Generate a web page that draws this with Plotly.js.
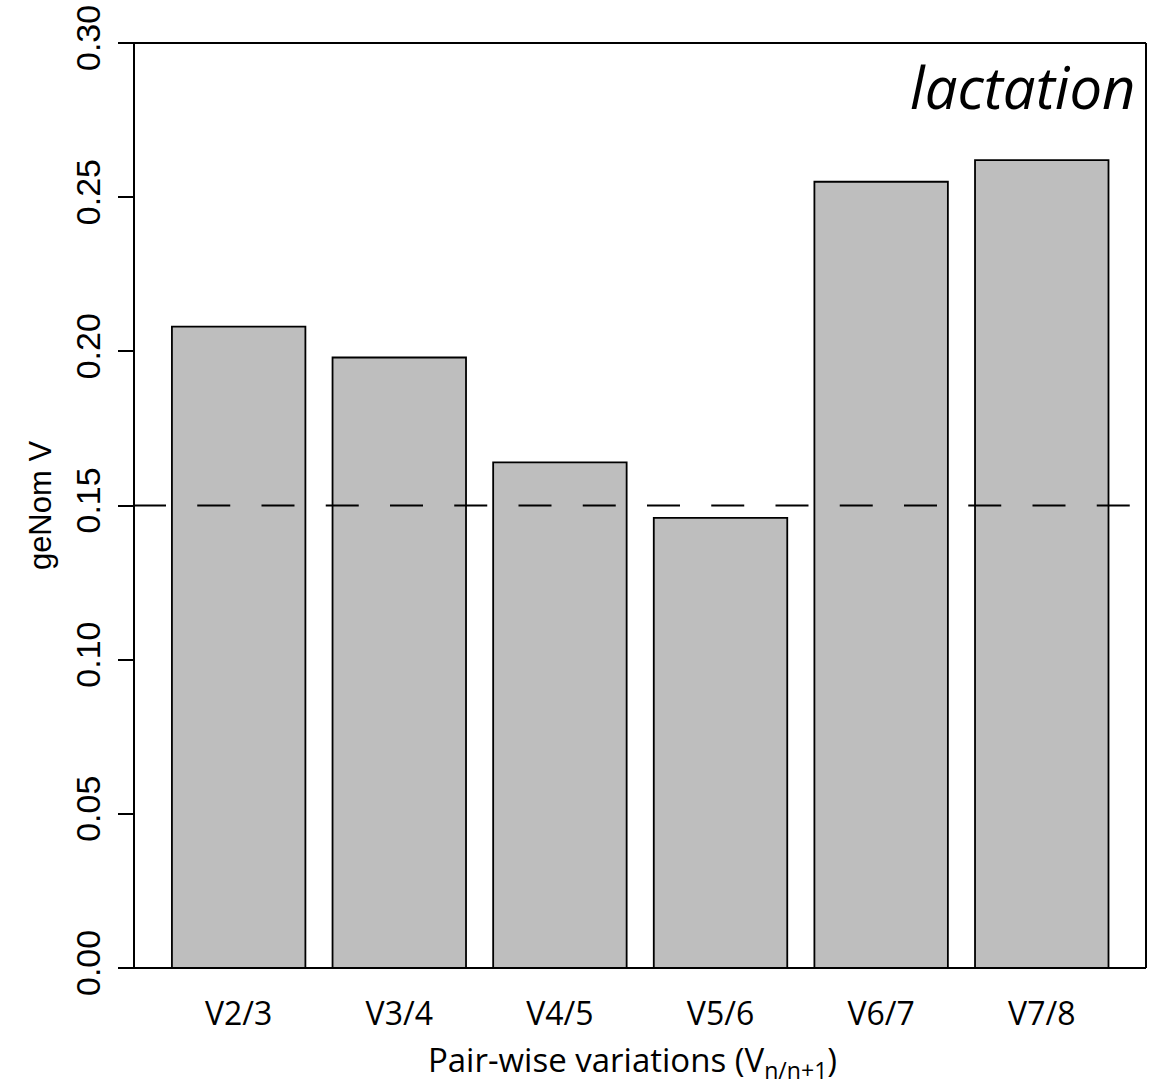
<!DOCTYPE html>
<html>
<head>
<meta charset="utf-8">
<script src="https://cdn.plot.ly/plotly-3.0.1.min.js"></script>
<style>html,body{margin:0;padding:0;background:#fff;}#chart{width:1155px;height:1088px;}</style>
</head>
<body>
<div id="chart"></div>
<script>
const categories = ['V2/3', 'V3/4', 'V4/5', 'V5/6', 'V6/7', 'V7/8'];
const geNomV = [0.208, 0.198, 0.164, 0.146, 0.255, 0.262];
const threshold = 0.15;
const yTicks = [0, 0.05, 0.10, 0.15, 0.20, 0.25, 0.30];
const panelLabel = 'lactation';

const trace = {
  type: 'bar',
  x: categories,
  y: geNomV,
  width: 0.831,
  marker: {color: '#bebebe', line: {color: '#000', width: 1.8}},
  hoverinfo: 'x+y'
};

const layout = {
  width: 1155, height: 1088,
  margin: {l: 119, r: 9, t: 43, b: 120, pad: 0},
  paper_bgcolor: '#fff', plot_bgcolor: '#fff',
  showlegend: false,
  bargap: 0,
  xaxis: {
    type: 'category',
    range: [-0.745, 5.649],
    showline: false, zeroline: false, showgrid: false,
    ticks: '',
    tickfont: {family: 'Open Sans', size: 32, color: '#000'},
    ticklabelstandoff: 24,
    title: {text: 'Pair-wise variations (V<sub>n/n+1</sub>)', font: {family: 'Open Sans', size: 33, color: '#000'}, standoff: 15}
  },
  yaxis: {
    range: [0, 0.30],
    anchor: 'free', position: 0.0146,
    showline: true, linecolor: '#000', linewidth: 2,
    zeroline: false, showgrid: false,
    ticks: 'outside', ticklen: 15, tickwidth: 2, tickcolor: '#000',
    tickvals: yTicks, tickformat: '.2f', tickangle: -90,
    tickfont: {family: 'Liberation Sans, Arial, sans-serif', size: 34, color: '#000'},
    ticklabelstandoff: 4,
    title: {text: 'geNom V', font: {family: 'Liberation Sans, Arial, sans-serif', size: 31, color: '#000'}, standoff: 8}
  },
  shapes: [
    {type: 'line', layer: 'above', xref: 'paper', yref: 'y', x0: 0.01363, x1: 1, y0: threshold, y1: threshold,
     line: {color: '#000', width: 2, dash: '33px,31.25px'}},
    {type: 'line', xref: 'paper', yref: 'paper', x0: 0, x1: 1, y0: 1, y1: 1, line: {color: '#000', width: 2}},
    {type: 'line', xref: 'paper', yref: 'paper', x0: 0, x1: 1, y0: 0, y1: 0, line: {color: '#000', width: 2}},
    {type: 'line', xref: 'paper', yref: 'paper', x0: 1, x1: 1, y0: 0, y1: 1, line: {color: '#000', width: 2}}
  ],
  annotations: [
    {text: panelLabel, xref: 'paper', yref: 'paper', x: 0.9915, y: 0.998, xanchor: 'right', yanchor: 'top',
     showarrow: false, font: {family: 'Open Sans', size: 58, color: '#000', style: 'italic'}}
  ]
};

Plotly.newPlot('chart', [trace], layout, {displayModeBar: false, staticPlot: true});
</script>
</body>
</html>
